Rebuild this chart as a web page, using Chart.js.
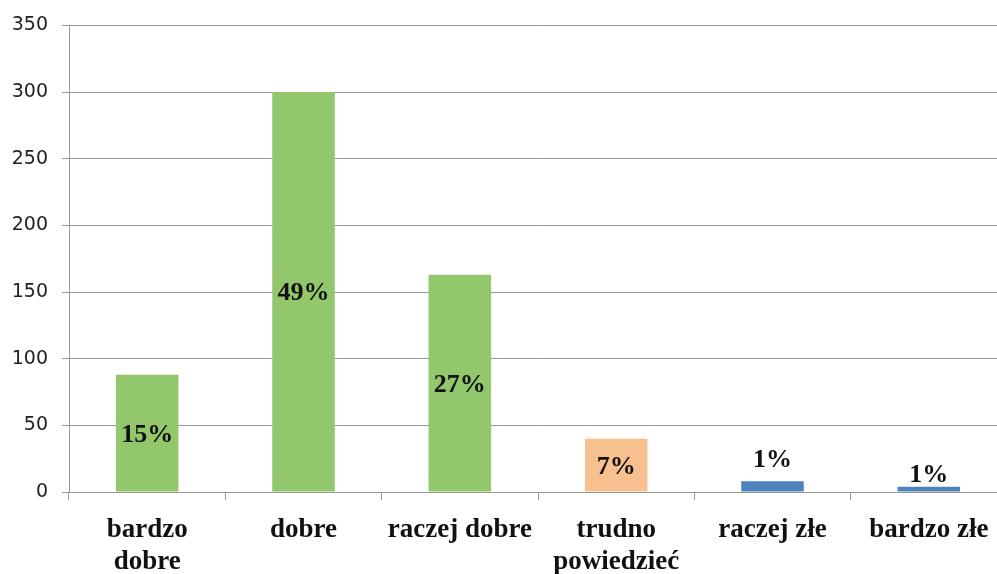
<!DOCTYPE html>
<html>
<head>
<meta charset="utf-8">
<script src="https://cdn.jsdelivr.net/npm/chart.js@4/dist/chart.umd.min.js"></script>
<style>
  html, body { margin: 0; padding: 0; background: #fff; overflow: hidden; }
  #wrap { position: relative; width: 1008px; height: 574px; }
</style>
</head>
<body>
<div id="wrap"><canvas id="c"></canvas></div>
<script>
const categories = [['bardzo', 'dobre'], 'dobre', 'raczej dobre', ['trudno', 'powiedzieć'], 'raczej złe', 'bardzo złe'];
const values = [88, 300, 163, 40, 8, 4];
const percentLabels = ['15%', '49%', '27%', '7%', '1%', '1%'];
const barColors = ['#92C86B', '#92C86B', '#92C86B', '#F9C08F', '#4F83BF', '#4F83BF'];
const yTicks = { min: 0, max: 350, step: 50 };

const labelPlugin = {
  id: 'barLabels',
  afterDatasetsDraw(chart, args, opts) {
    const ctx = chart.ctx;
    const meta = chart.getDatasetMeta(0);
    ctx.save();
    ctx.font = opts.font;
    ctx.fillStyle = opts.color;
    ctx.textAlign = 'center';
    ctx.textBaseline = 'middle';
    meta.data.forEach((bar, i) => {
      const h = bar.base - bar.y;
      let y;
      if (h > 30) {
        y = (bar.y + bar.base) / 2 + 2;
      } else {
        y = bar.y - opts.aboveOffsets[i];
      }
      ctx.fillText(percentLabels[i], bar.x, y);
    });
    ctx.restore();
  }
};

new Chart(document.getElementById('c'), {
  type: 'bar',
  data: {
    labels: categories,
    datasets: [{
      data: values,
      backgroundColor: barColors,
      borderWidth: 0,
      barPercentage: 0.40,
      categoryPercentage: 1.0
    }]
  },
  options: {
    responsive: true,
    maintainAspectRatio: false,
    animation: false,
    devicePixelRatio: 1,
    layout: { padding: { top: 24, right: 1, bottom: 0, left: 0 } },
    plugins: {
      legend: { display: false },
      tooltip: { enabled: false },
      barLabels: {
        font: 'bold 26px "Liberation Serif"',
        color: '#111',
        aboveOffsets: [0, 0, 0, 0, 21, 11]
      }
    },
    scales: {
      x: {
        grid: {
          offset: true,
          drawOnChartArea: false,
          drawTicks: true,
          tickLength: 8,
          color: '#999'
        },
        border: { color: '#999', width: 1 },
        ticks: {
          color: '#111',
          font: { family: '"Liberation Serif"', size: 27, weight: 'bold', lineHeight: 1.15 },
          maxRotation: 0,
          autoSkip: false,
          padding: 15
        },
        afterFit(scale) { scale.height = 82; }
      },
      y: {
        min: yTicks.min,
        max: yTicks.max,
        grid: {
          color: '#999',
          tickLength: 7
        },
        border: { color: '#999', width: 1 },
        ticks: {
          stepSize: yTicks.step,
          color: '#222',
          font: { family: '"DejaVu Sans"', size: 19 },
          padding: 14
        },
        afterFit(scale) { scale.width = 69; }
      }
    }
  },
  plugins: [labelPlugin]
});
</script>
</body>
</html>
